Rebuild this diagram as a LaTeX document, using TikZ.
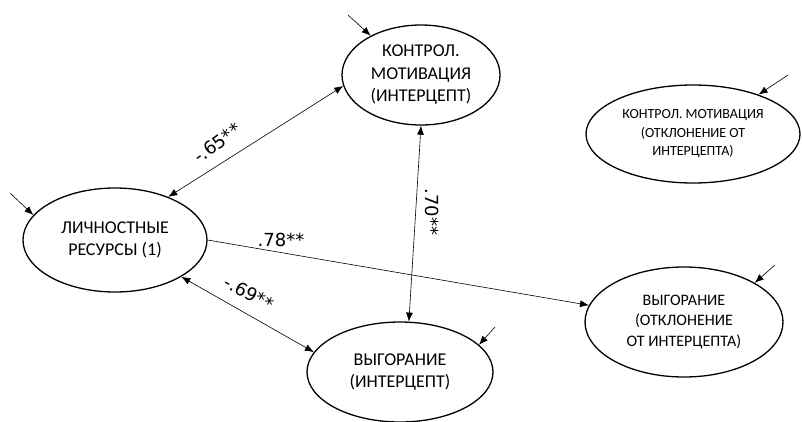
\documentclass[tikz,border=0pt]{standalone}
\usepackage{fontspec}
\setmainfont{Carlito}
\newfontfamily\coeffont{DejaVu Sans}
\usetikzlibrary{shapes.geometric,arrows.meta}
\tikzset{var/.style={ellipse,draw,line width=1.3pt,inner sep=0pt,align=center,font=\fontsize{18}{22.5}\selectfont}}
\tikzset{err/.style={-{Latex[length=9pt,width=7pt]},line width=0.6pt}}
\tikzset{cov/.style={{Latex[length=9pt,width=7pt]}-{Latex[length=9pt,width=7pt]},line width=0.6pt}}
\tikzset{coef/.style={font=\coeffont\fontsize{18}{22}\selectfont,inner sep=0pt}}

\begin{document}
\begin{tikzpicture}[x=1pt,y=-1pt]
      \useasboundingbox (0,0) rectangle (802,421);
      \node[var,minimum width=184,minimum height=104] (lich) at (115,240) {ЛИЧНОСТНЫЕ\\РЕСУРСЫ (1)};
      \node[var,minimum width=158,minimum height=100] (kmi) at (421,75) {КОНТРОЛ.\\МОТИВАЦИЯ\\(ИНТЕРЦЕПТ)};
      \node[var,minimum width=214,minimum height=98,font=\fontsize{14}{18.5}\selectfont] (kmd) at (693,134) {КОНТРОЛ. МОТИВАЦИЯ\\(ОТКЛОНЕНИЕ ОТ\\ИНТЕРЦЕПТА)};
      \node[var,minimum width=198,minimum height=110,font=\fontsize{16}{20.5}\selectfont] (vyd) at (684,322) {ВЫГОРАНИЕ\\(ОТКЛОНЕНИЕ\\ОТ ИНТЕРЦЕПТА)};
      \node[var,minimum width=186,minimum height=100] (vyi) at (400,372) {ВЫГОРАНИЕ\\(ИНТЕРЦЕПТ)};

      \coordinate (e1) at (10,193);
      \coordinate (e2) at (348,15);
      \coordinate (e3) at (788,75);
      \coordinate (e4) at (775,265);
      \coordinate (e5) at (495,327);
      \foreach \a/\b in {e1/lich.163,e2/kmi.142,e3/kmd.31,e4/vyd.29,e5/vyi.19}
        \draw[err] (\a) -- (\b);

      \draw[cov] (lich.39) -- (kmi.188);
      \draw[cov] (lich.331) -- (vyi.167);
      \draw[cov] (kmi.270) -- (vyi.80);
      \draw[err] (lich.0) -- (vyd.170);

      \node[coef,rotate=36] (c65) at (217,143) {-.65**};
      \node[coef,rotate=-28] (c69) at (249,293) {-.69**};
      \node[coef] (c78) at (281,240) {.78**};
      \node[coef,rotate=-90] (c70) at (432,212) {.70**};
    \end{tikzpicture}
\end{document}
